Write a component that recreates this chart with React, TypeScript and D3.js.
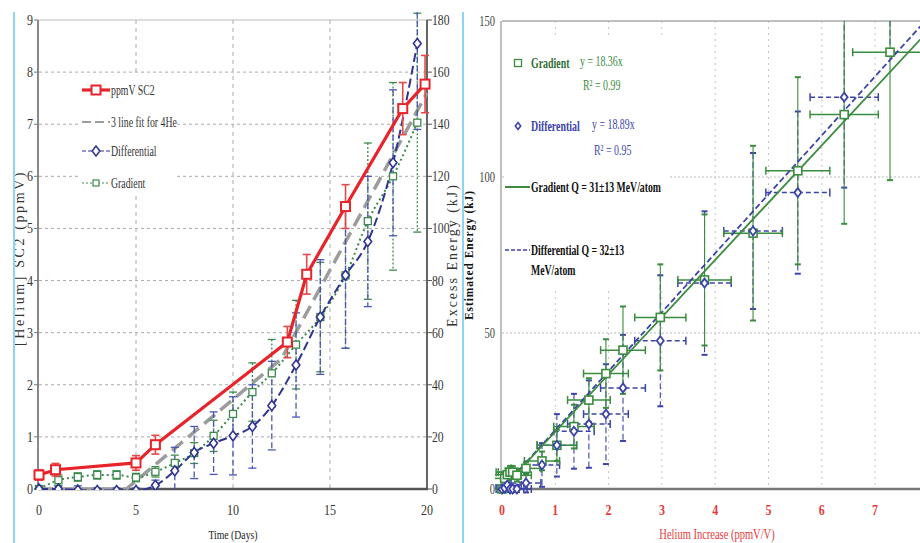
import React from 'react';
import * as d3 from 'd3';

// ---- left panel: helium vs time ----
const dayTicks = [0, 5, 10, 15, 20];
const heliumTicks = [0, 1, 2, 3, 4, 5, 6, 7, 8, 9];
const energyTicks = [0, 20, 40, 60, 80, 100, 120, 140, 160, 180];

const sc2Days = [0, 0.85, 5, 6, 12.8, 13.8, 15.8, 18.75, 19.9];
const sc2Helium = [0.27, 0.37, 0.5, 0.85, 2.82, 4.12, 5.42, 7.3, 7.77];
const sc2Err = [0.1, 0.12, 0.14, 0.18, 0.3, 0.38, 0.42, 0.5, 0.55];

const fitDays = [0, 4.5, 12.5, 20];
const fitHelium = [0, 0, 2.5, 7.6];

const sampleDays = [0, 1, 2, 3, 4, 5, 6, 7, 8, 9, 10, 11, 12, 13.25, 14.5, 15.8, 16.95, 18.25, 19.5];
const diffHelium = [0, 0, -0.02, -0.03, -0.03, -0.03, 0.07, 0.35, 0.7, 0.88, 1.02, 1.2, 1.6, 2.38, 3.3, 4.1, 4.75, 6.26, 8.55];
const diffErr = [0.05, 0.05, 0.08, 0.05, 0.05, 0.05, 0.1, 0.45, 0.5, 0.6, 0.75, 0.8, 0.85, 1.0, 1.1, 1.4, 1.25, 1.4, 1.65];
const gradHelium = [0, 0.17, 0.23, 0.27, 0.27, 0.22, 0.33, 0.5, 0.69, 1.02, 1.44, 1.86, 2.22, 2.77, 3.3, 4.1, 5.14, 6.0, 7.03];
const gradErr = [0.03, 0.1, 0.08, 0.08, 0.08, 0.08, 0.1, 0.15, 0.2, 0.3, 0.42, 0.56, 0.65, 0.85, 1.05, 1.4, 1.5, 1.8, 2.1];

const leftLegend = ['ppmV SC2', '3 line fit for 4He', 'Differential', 'Gradient'];

// ---- right panel: energy vs helium increase ----
const increaseTicks = [0, 1, 2, 3, 4, 5, 6, 7];
const estEnergyTicks = [0, 50, 100, 150];

const heIncrease = [0, 0.05, 0.1, 0.15, 0.2, 0.28, 0.45, 0.75, 1.03, 1.35, 1.63, 1.95, 2.27, 2.97, 3.8, 4.71, 5.55, 6.42, 7.28];
const heIncreaseErr = [0.25, 0.25, 0.26, 0.26, 0.27, 0.27, 0.28, 0.33, 0.37, 0.38, 0.4, 0.42, 0.42, 0.48, 0.5, 0.55, 0.6, 0.64, 0.7];
const gradEnergy = [0, 3.4, 4.6, 5.4, 5.4, 4.4, 6.6, 9, 14, 20, 28.5, 37, 44.5, 55, 67, 82, 102, 120, 140];
const gradEnergyErr = [1, 2, 2, 2, 2, 2, 2, 3, 5, 7, 7, 11, 14, 17, 21, 28, 30, 35, 41];
const diffEnergy = [0, 0.3, 1.3, 0, 0, 0, 1.9, 7.7, 14, 18.5, 20.8, 24, 32.4, 47.5, 66, 82.7, 95, 125.6, 171];
const diffEnergyErr = [1, 1, 1, 1, 1, 1, 3, 7, 10, 12, 14, 16, 17, 21, 23, 25, 26, 29, 31];

const gradSlope = 18.36;
const diffSlope = 18.89;
const fitRange = [0, 8];

const RED = '#e8232a';
const GREY = '#9c9c9c';
const BLUE = '#2f3391';
const GREEN = '#3d8a4c';
const RGREEN = '#3a8c3e';
const RBLUE = '#3c44a8';
const SERIF = '"Liberation Serif", "DejaVu Serif", serif';

const Narrow = ({x, y, children, size = 12, fill = '#222', weight = 'normal', anchor = 'start', sx = 0.82}: any) => (
  <text transform={`translate(${x},${y}) scale(${sx},1)`} fontSize={size} fill={fill}
    fontWeight={weight} textAnchor={anchor} fontFamily={SERIF}>{children}</text>
);

const Square = ({x, y, s, stroke, w = 1.5}: any) => (
  <rect x={x - s / 2} y={y - s / 2} width={s} height={s} fill="white" stroke={stroke} strokeWidth={w} />
);
const Diamond = ({x, y, s, stroke, w = 1.5}: any) => (
  <path d={`M${x},${y - s / 2}L${x + s / 2.6},${y}L${x},${y + s / 2}L${x - s / 2.6},${y}Z`} fill="white" stroke={stroke} strokeWidth={w} />
);

const LeftPanel = () => {
  const x = d3.scaleLinear().domain([0, 20]).range([39, 427]);
  const y = d3.scaleLinear().domain([0, 9]).range([489, 20]);
  const y2 = d3.scaleLinear().domain([0, 180]).range([489, 20]);
  const straight = d3.line<number>().x((_, i) => x(sc2Days[i])).y((d) => y(d));
  const fitLine = d3.line<number>().x((_, i) => x(fitDays[i])).y((d) => y(d));
  const smooth = d3.line<number>().x((_, i) => x(sampleDays[i])).y((d) => y(d)).curve(d3.curveMonotoneX);

  const errBars = (xs: number[], vals: number[], errs: number[], color: string, dash: string, w: number) =>
    vals.map((v, i) => {
      const cx = x(xs[i]);
      const top = y(v + errs[i]);
      const bot = y(v - errs[i]);
      return (
        <g key={i} stroke={color} strokeWidth={w}>
          <line x1={cx} x2={cx} y1={top} y2={bot} strokeDasharray={dash} />
          <line x1={cx - 4} x2={cx + 4} y1={top} y2={top} />
          <line x1={cx - 4} x2={cx + 4} y1={bot} y2={bot} />
        </g>
      );
    });

  return (
    <g>
      <defs>
        <clipPath id="leftClip"><rect x={30} y={12} width={405} height={478} /></clipPath>
      </defs>
      {/* grid */}
      {heliumTicks.slice(1, -1).map((t) => (
        <line key={'h' + t} x1={39} x2={427} y1={y(t)} y2={y(t)} stroke="#aaa" strokeDasharray="3,3" />
      ))}
      {dayTicks.slice(1, -1).map((t) => (
        <line key={'v' + t} x1={x(t)} x2={x(t)} y1={20} y2={489} stroke="#aaa" strokeDasharray="4,4" />
      ))}
      <line x1={39} x2={427} y1={20} y2={20} stroke="#bbb" />
      {/* legend box hides the grid */}
      <rect x={80} y={75} width={97} height={120} fill="white" />
      {/* axes */}
      <line x1={38} x2={38} y1={20} y2={489} stroke="#888" strokeWidth={2} />
      <line x1={427} x2={427} y1={20} y2={489} stroke="#666" strokeWidth={2} />
      <line x1={38} x2={428} y1={489} y2={489} stroke="#555" strokeWidth={2.5} />
      {heliumTicks.map((t) => (
        <g key={'lt' + t}>
          <line x1={34} x2={38} y1={y(t)} y2={y(t)} stroke="#777" />
          <Narrow x={33} y={y(t) + 5} size={15} anchor="end" fill="#333" sx={0.8}>{t}</Narrow>
        </g>
      ))}
      {energyTicks.map((t) => (
        <g key={'rt' + t}>
          <line x1={427} x2={432} y1={y2(t)} y2={y2(t)} stroke="#555" />
          <Narrow x={432} y={y2(t) + 5} size={15} fill="#333" sx={0.78}>{t}</Narrow>
        </g>
      ))}
      {dayTicks.map((t) => (
        <Narrow key={'xt' + t} x={x(t)} y={515} size={15} anchor="middle" fill="#333" sx={0.8}>{t}</Narrow>
      ))}
      <Narrow x={233} y={539} size={13} anchor="middle" sx={0.75}>Time (Days)</Narrow>
      <text transform="translate(24,258) rotate(-90)" textAnchor="middle" fontSize={14} fontFamily={SERIF}
        fill="#333" letterSpacing={2.6}>[Helium] SC2 (ppmV)</text>
      <text transform="translate(457,255) rotate(-90)" textAnchor="middle" fontSize={14} fontFamily={SERIF}
        fill="#333" letterSpacing={2}>Excess Energy (kJ)</text>

      <g clipPath="url(#leftClip)">
        <path d={fitLine(fitHelium) || ''} fill="none" stroke={GREY} strokeWidth={3.5} strokeDasharray="14,7" />
        {errBars(sampleDays, gradHelium, gradErr, GREEN, '2,2', 1.3)}
        {errBars(sampleDays, diffHelium, diffErr, '#4b57b8', '6,3', 1.3)}
        <path d={smooth(gradHelium) || ''} fill="none" stroke={GREEN} strokeWidth={2} strokeDasharray="2,3" />
        <path d={smooth(diffHelium) || ''} fill="none" stroke={BLUE} strokeWidth={2} strokeDasharray="9,4" />
        {gradHelium.map((v, i) => <Square key={'gs' + i} x={x(sampleDays[i])} y={y(v)} s={7} stroke={GREEN} w={1.3} />)}
        {diffHelium.map((v, i) => <Diamond key={'ds' + i} x={x(sampleDays[i])} y={y(v)} s={10} stroke={BLUE} w={1.6} />)}
        {errBars(sc2Days, sc2Helium, sc2Err, '#e24a4a', '', 1.6)}
        <path d={straight(sc2Helium) || ''} fill="none" stroke={RED} strokeWidth={3.2} />
        {sc2Helium.map((v, i) => <Square key={'rs' + i} x={x(sc2Days[i])} y={y(v)} s={9} stroke={RED} w={2} />)}
      </g>

      {/* legend */}
      <g>
        <line x1={82} x2={110} y1={90} y2={90} stroke={RED} strokeWidth={3.2} />
        <Square x={96} y={90} s={9} stroke={RED} w={2} />
        <line x1={82} x2={110} y1={122} y2={122} stroke={GREY} strokeWidth={2} strokeDasharray="9,4" />
        <line x1={82} x2={110} y1={151} y2={151} stroke={BLUE} strokeWidth={1.2} strokeDasharray="4,2" />
        <Diamond x={96} y={151} s={10} stroke={BLUE} w={1.5} />
        <line x1={82} x2={110} y1={183} y2={183} stroke={GREEN} strokeWidth={1.2} strokeDasharray="2,2" />
        <Square x={96} y={183} s={6} stroke={GREEN} w={1.2} />
        {leftLegend.map((t, i) => (
          <Narrow key={t} x={111} y={[90, 122, 151, 183][i] + 5} size={14} fill="#333" sx={0.7}>{t}</Narrow>
        ))}
      </g>
    </g>
  );
};

const RightPanel = () => {
  const x = d3.scaleLinear().domain([0, 8]).range([502, 928.4]);
  const y = d3.scaleLinear().domain([0, 150]).range([489, 21]);
  const fit = (slope: number) =>
    d3.line<number>().x((d) => x(d)).y((d) => y(d * slope))(fitRange) || '';

  const xyErr = (ys: number[], yerr: number[], color: string, dash: string) =>
    ys.map((v, i) => {
      const cx = x(heIncrease[i]);
      const cy = y(v);
      const x0 = x(heIncrease[i] - heIncreaseErr[i]);
      const x1 = x(heIncrease[i] + heIncreaseErr[i]);
      const top = y(v + yerr[i]);
      const bot = y(v - yerr[i]);
      return (
        <g key={i} stroke={color} strokeWidth={1.5}>
          <line x1={x0} x2={x1} y1={cy} y2={cy} strokeDasharray={dash} />
          <line x1={x0} x2={x0} y1={cy - 4} y2={cy + 4} />
          <line x1={x1} x2={x1} y1={cy - 4} y2={cy + 4} />
          <line x1={cx} x2={cx} y1={top} y2={bot} strokeWidth={1.1} strokeDasharray={dash ? '6,3' : ''} />
          <line x1={cx - 3} x2={cx + 3} y1={top} y2={top} strokeWidth={2} />
          <line x1={cx - 3} x2={cx + 3} y1={bot} y2={bot} strokeWidth={2} />
        </g>
      );
    });

  return (
    <g>
      <defs>
        <clipPath id="rightClip"><rect x={495} y={21} width={430} height={474} /></clipPath>
      </defs>
      {increaseTicks.slice(1).map((t) => (
        <line key={'v' + t} x1={x(t)} x2={x(t)} y1={21} y2={489} stroke="#c4c4c4" strokeDasharray="2,4" />
      ))}
      {estEnergyTicks.slice(1, -1).map((t) => (
        <line key={'h' + t} x1={502} x2={920} y1={y(t)} y2={y(t)} stroke="#bdbdbd" strokeDasharray="2,2" />
      ))}
      <rect x={505} y={38} width={163} height={252} fill="white" />
      <line x1={502} x2={920} y1={21} y2={21} stroke="#aaa" strokeWidth={1.5} />
      <line x1={501} x2={501} y1={21} y2={489} stroke="#aaa" strokeWidth={1.5} />
      <line x1={501} x2={920} y1={489} y2={489} stroke="#777" strokeWidth={2.5} />
      {estEnergyTicks.map((t) => (
        <Narrow key={'yt' + t} x={495} y={y(t) + 5} size={14} anchor="end" fill="#444" sx={0.75}>{t}</Narrow>
      ))}
      {increaseTicks.map((t) => (
        <Narrow key={'xt' + t} x={x(t)} y={515} size={15} anchor="middle" fill="#e53b3b" weight="bold" sx={0.8}>{t}</Narrow>
      ))}
      <Narrow x={717} y={539} size={14} anchor="middle" fill="#e53b3b" sx={0.75}>Helium Increase (ppmV/V)</Narrow>
      <text transform="translate(473,255) rotate(-90) scale(0.95,1)" textAnchor="middle" fontSize={12} fontFamily={SERIF}
        fontWeight="bold" fill="#111" letterSpacing={1}>Estimated Energy (kJ)</text>

      <g clipPath="url(#rightClip)">
        {xyErr(diffEnergy, diffEnergyErr, RBLUE, '5,3')}
        {xyErr(gradEnergy, gradEnergyErr, RGREEN, '')}
        <path d={fit(diffSlope)} fill="none" stroke={RBLUE} strokeWidth={1.8} strokeDasharray="6,3" />
        <path d={fit(gradSlope)} fill="none" stroke={RGREEN} strokeWidth={1.8} />
        {gradEnergy.map((v, i) => <Square key={'g' + i} x={x(heIncrease[i])} y={y(v)} s={8} stroke={RGREEN} w={1.6} />)}
        {diffEnergy.map((v, i) => <Diamond key={'d' + i} x={x(heIncrease[i])} y={y(v)} s={9} stroke={RBLUE} w={1.8} />)}
      </g>

      {/* legend */}
      <Square x={518} y={63} s={7} stroke={RGREEN} w={1.3} />
      <Narrow x={531} y={68} size={15} fill={'#2f6e35'} weight="bold" sx={0.66}>Gradient</Narrow>
      <Narrow x={580} y={66} size={15} fill={RGREEN} sx={0.66}>y = 18.36x</Narrow>
      <Narrow x={583} y={90} size={15} fill={RGREEN} sx={0.66}>R² = 0.99</Narrow>
      <Diamond x={518} y={126} s={7} stroke={RBLUE} w={1.6} />
      <Narrow x={531} y={131} size={15} fill={RBLUE} weight="bold" sx={0.66}>Differential</Narrow>
      <Narrow x={592} y={129} size={15} fill={RBLUE} sx={0.66}>y = 18.89x</Narrow>
      <Narrow x={594} y={155} size={15} fill={RBLUE} sx={0.66}>R² = 0.95</Narrow>
      <line x1={505} x2={530} y1={187} y2={187} stroke={RGREEN} strokeWidth={2} />
      <Narrow x={531} y={192} size={15} fill="#111" weight="bold" sx={0.65}>Gradient Q = 31±13 MeV/atom</Narrow>
      <line x1={505} x2={530} y1={250} y2={250} stroke={RBLUE} strokeWidth={1.5} strokeDasharray="4,2" />
      <Narrow x={531} y={255} size={15} fill="#111" weight="bold" sx={0.65}>Differential Q = 32±13</Narrow>
      <Narrow x={531} y={275} size={15} fill="#111" weight="bold" sx={0.65}>MeV/atom</Narrow>
    </g>
  );
};

export default function App() {
  return (
    <div style={{position: 'absolute', left: 0, top: 0, width: 920, height: 543, background: 'white'}}>
      <svg width={920} height={543} style={{display: 'block'}}>
        <rect width={920} height={543} fill="white" />
        <LeftPanel />
        <RightPanel />
        <line x1={14} x2={14} y1={12} y2={543} stroke="#8fd4f2" strokeWidth={2} />
        <line x1={463} x2={463} y1={12} y2={543} stroke="#8fd4f2" strokeWidth={2} />
      </svg>
    </div>
  );
}
